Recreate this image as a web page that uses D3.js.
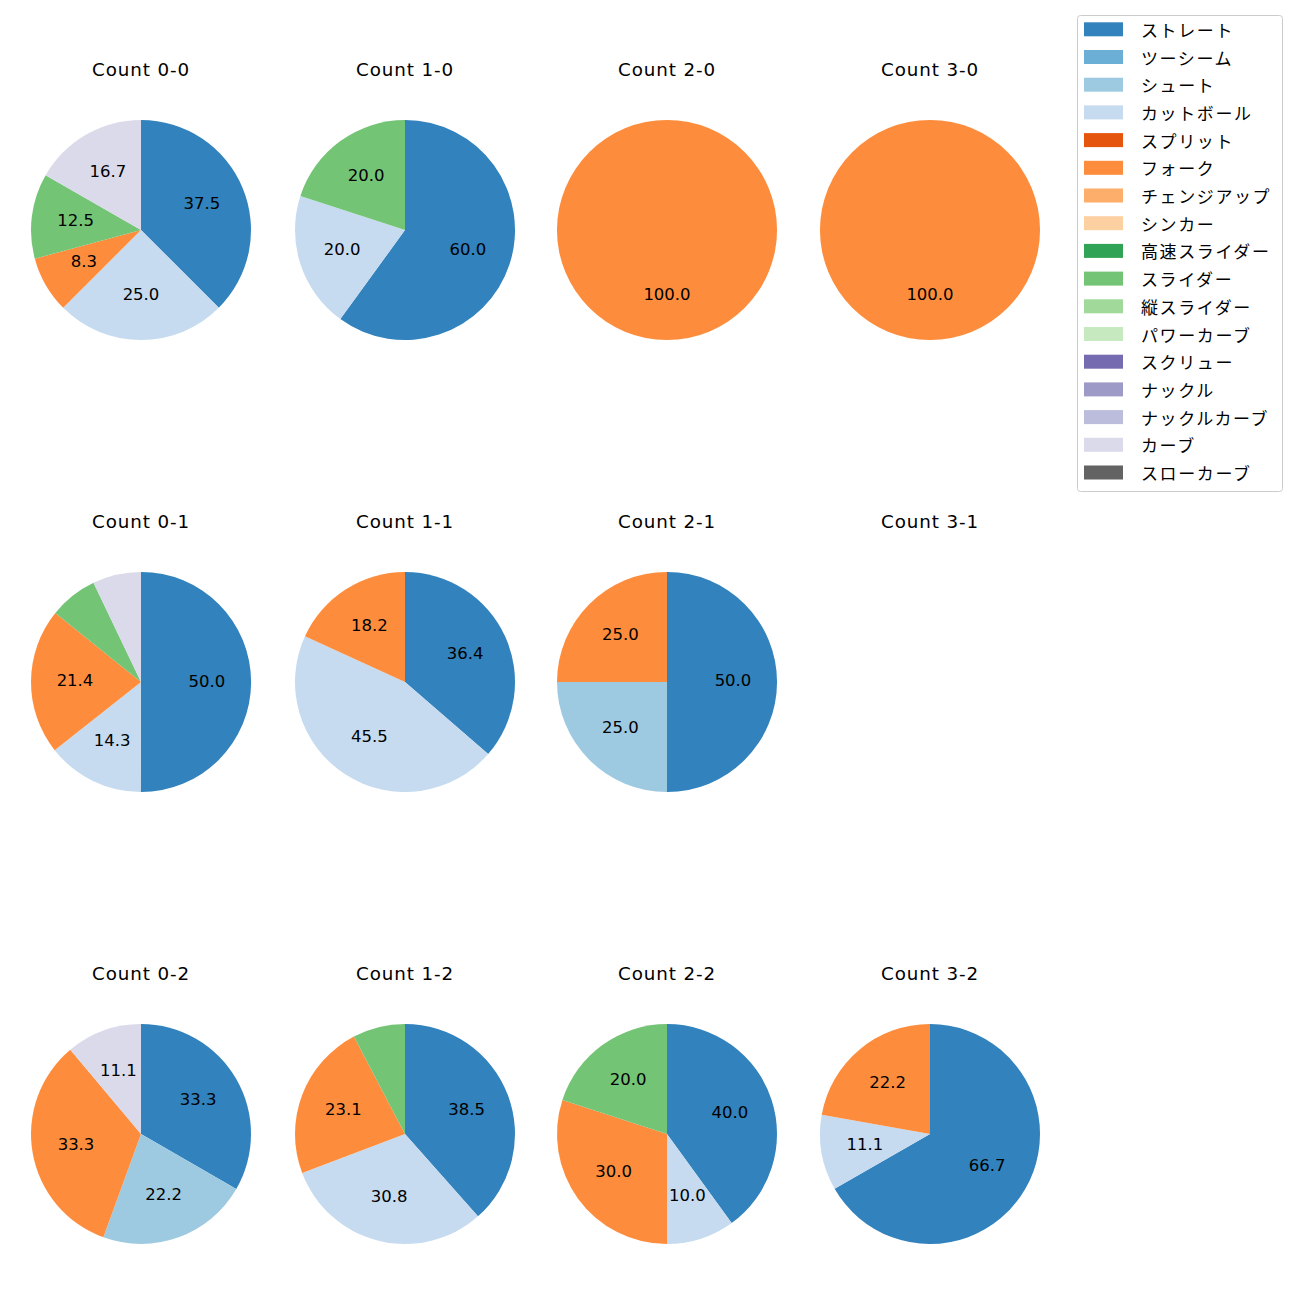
<!DOCTYPE html>
<html>
<head>
<meta charset="utf-8">
<script src="https://cdn.jsdelivr.net/npm/d3@7"></script>
<style>
  html, body { margin: 0; padding: 0; background: #ffffff; }
  svg { display: block; font-family: "DejaVu Sans", "Noto Sans CJK JP", sans-serif; }
</style>
</head>
<body>
<svg id="chart" width="1300" height="1300"></svg>
<script>
// Pitch types (legend order) and their colours
const pitchTypes = ["ストレート","ツーシーム","シュート","カットボール","スプリット","フォーク","チェンジアップ","シンカー","高速スライダー","スライダー","縦スライダー","パワーカーブ","スクリュー","ナックル","ナックルカーブ","カーブ","スローカーブ"];
const pitchColors = ["#3182bd","#6baed6","#9ecae1","#c6dbef","#e6550d","#fd8d3c","#fdae6b","#fdd0a2","#31a354","#74c476","#a1d99b","#c7e9c0","#756bb1","#9e9ac8","#bcbddc","#dadaeb","#636363"];

// Percentages per count, aligned with pitchTypes
const count00 = [37.5,0,0,25.0,0,8.3,0,0,0,12.5,0,0,0,0,0,16.7,0];
const count10 = [60.0,0,0,20.0,0,0,0,0,0,20.0,0,0,0,0,0,0,0];
const count20 = [0,0,0,0,0,100.0,0,0,0,0,0,0,0,0,0,0,0];
const count30 = [0,0,0,0,0,100.0,0,0,0,0,0,0,0,0,0,0,0];
const count01 = [50.0,0,0,14.3,0,21.4,0,0,0,7.1,0,0,0,0,0,7.1,0];
const count11 = [36.4,0,0,45.5,0,18.2,0,0,0,0,0,0,0,0,0,0,0];
const count21 = [50.0,0,25.0,0,0,25.0,0,0,0,0,0,0,0,0,0,0,0];
const count31 = [];
const count02 = [33.3,0,22.2,0,0,33.3,0,0,0,0,0,0,0,0,0,11.1,0];
const count12 = [38.5,0,0,30.8,0,23.1,0,0,0,7.7,0,0,0,0,0,0,0];
const count22 = [40.0,0,0,10.0,0,30.0,0,0,0,20.0,0,0,0,0,0,0,0];
const count32 = [66.7,0,0,11.1,0,22.2,0,0,0,0,0,0,0,0,0,0,0];

const panelTitles = ["Count 0-0","Count 1-0","Count 2-0","Count 3-0",
                     "Count 0-1","Count 1-1","Count 2-1","Count 3-1",
                     "Count 0-2","Count 1-2","Count 2-2","Count 3-2"];
const panelValues = [count00,count10,count20,count30,
                     count01,count11,count21,count31,
                     count02,count12,count22,count32];

const svg = d3.select("#chart");
const colX = [141, 405, 667, 930];
const rowY = [230, 682, 1134];
const radius = 110;
const labelThreshold = 8;

const pie = d3.pie().sort(null).startAngle(0).endAngle(2 * Math.PI);
const arc = d3.arc().innerRadius(0).outerRadius(radius);
const labelArc = d3.arc().innerRadius(radius * 0.6).outerRadius(radius * 0.6);

panelValues.forEach((vals, i) => {
  const cx = colX[i % 4], cy = rowY[Math.floor(i / 4)];
  const g = svg.append("g").attr("transform", `translate(${cx},${cy})`);
  g.append("text")
    .attr("x", 0).attr("y", -154)
    .attr("text-anchor", "middle")
    .attr("font-size", 18.3)
    .attr("letter-spacing", 0.9)
    .attr("fill", "#000")
    .text(panelTitles[i]);
  if (!vals.length) return;
  const data = vals.map((v, k) => ({ v, k })).filter(d => d.v > 0);
  const arcs = pie.value(d => d.v)(data);
  g.selectAll("path.w").data(arcs).enter().append("path")
    .attr("class", "w")
    .attr("d", arc)
    .attr("fill", d => pitchColors[d.data.k]);
  g.selectAll("text.l").data(arcs.filter(d => d.data.v >= labelThreshold)).enter().append("text")
    .attr("class", "l")
    .attr("transform", d => { const c = labelArc.centroid(d); return `translate(${c[0]},${c[1] + 4.4})`; })
    .attr("text-anchor", "middle")
    .attr("font-size", 16.5)
    .attr("fill", "#000")
    .text(d => d.data.v.toFixed(1));
});

// Legend
const lg = svg.append("g");
lg.append("rect")
  .attr("x", 1077.5).attr("y", 15.5).attr("width", 205).attr("height", 476)
  .attr("rx", 3).attr("fill", "#fff").attr("stroke", "#cccccc").attr("stroke-width", 1);
const step = 27.7;
pitchTypes.forEach((p, k) => {
  const y = 29.3 + k * step;
  lg.append("rect").attr("x", 1084).attr("y", y - 7).attr("width", 39).attr("height", 14)
    .attr("fill", pitchColors[k]);
  lg.append("text").attr("x", 1141).attr("y", y)
    .attr("dominant-baseline", "central")
    .attr("font-family", "Noto Sans CJK JP")
    .attr("font-size", 17).attr("letter-spacing", 1.6).attr("fill", "#000")
    .text(p);
});
</script>
</body>
</html>
